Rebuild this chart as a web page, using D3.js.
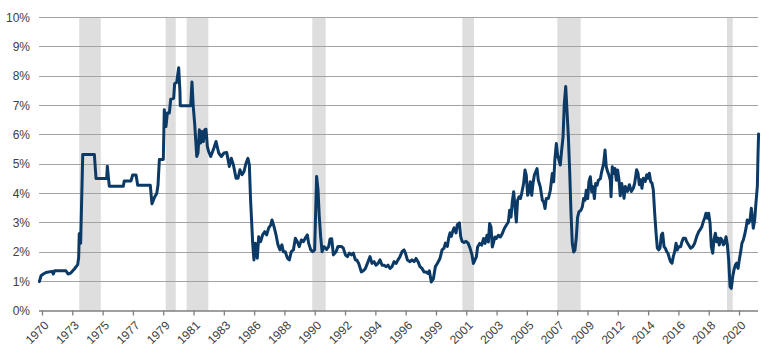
<!DOCTYPE html>
<html>
<head>
<meta charset="utf-8">
<script src="https://cdn.jsdelivr.net/npm/d3@7"></script>
<style>
  html, body { margin: 0; padding: 0; background: #ffffff; }
  svg { display: block; }
</style>
</head>
<body>
<svg id="chart" width="770" height="359"></svg>
<script>
// ---- DATA ----
// Dates as decimal years, values in percent
const dates = [
  1970.73,1970.85,1971.01,1971.20,1971.63,1971.73,1971.82,1972.63,1972.78,1972.97,
  1973.23,1973.47,1973.54,1973.58,1973.68,1973.83,1974.66,1974.78,1975.54,1975.59,
  1975.66,1975.73,1976.73,1976.80,1977.28,1977.40,1977.64,1977.76,1978.66,1978.78,
  1978.97,1979.12,1979.21,1979.31,1979.59,1979.66,1979.78,1979.88,1980.02,1980.12,
  1980.33,1980.40,1980.55,1980.69,1980.78,1980.80,
  1981.55,1981.64,1981.73,1981.83,1981.98,1982.07,1982.17,1982.26,1982.36,1982.45,
  1982.55,1982.64,1982.74,1982.83,1982.98,1983.21,1983.36,1983.55,1983.74,1983.93,
  1984.12,1984.31,1984.45,1984.60,1984.79,1984.93,1985.07,1985.22,1985.36,1985.50,
  1985.64,1985.74,1985.83,1985.98,1986.07,1986.17,1986.26,1986.31,1986.41,1986.55,
  1986.69,1986.84,1986.98,1987.12,1987.27,1987.36,1987.50,1987.65,1987.79,1987.93,
  1988.07,1988.17,1988.31,1988.46,1988.60,1988.74,1988.89,1989.03,1989.17,1989.31,
  1989.46,1989.60,1989.74,1989.89,1989.98,1990.13,1990.27,1990.41,1990.55,1990.65,
  1990.74,1990.84,1990.94,1991.08,1991.27,1991.41,
  1991.51,1991.63,1991.75,1991.94,1992.08,1992.32,1992.46,1992.61,1992.75,1992.89,
  1993.04,1993.18,1993.32,1993.42,1993.56,1993.75,1993.89,1994.04,1994.23,1994.37,
  1994.51,1994.66,1994.80,1994.94,1995.08,1995.23,1995.37,1995.51,1995.66,1995.80,
  1995.94,1996.09,1996.23,1996.37,1996.51,1996.66,1996.80,1996.90,1997.04,1997.23,
  1997.37,1997.52,1997.66,1997.80,1997.94,1998.09,1998.23,1998.37,1998.52,1998.61,
  1998.75,1998.90,1999.04,1999.18,1999.37,1999.52,1999.66,1999.76,1999.90,1999.99,
  2000.09,2000.18,2000.28,2000.38,2000.52,2000.61,2000.76,2000.85,2000.95,2001.09,
  2001.23,2001.38,2001.52,2001.66,2001.76,
  2001.97,2002.06,2002.21,2002.35,2002.49,2002.59,2002.73,2002.83,2002.92,2003.02,
  2003.11,2003.21,2003.30,2003.40,2003.54,2003.69,2003.83,2003.97,2004.11,2004.26,
  2004.35,2004.45,2004.54,2004.64,2004.73,2004.83,2004.92,2005.02,2005.12,2005.21,
  2005.35,2005.45,2005.54,2005.64,2005.73,2005.83,2005.93,2006.02,2006.12,2006.31,
  2006.40,2006.54,2006.69,2006.78,2006.88,2006.97,2007.12,2007.26,2007.40,2007.50,
  2007.59,2007.69,2007.78,2007.88,2007.97,2008.07,2008.17,2008.26,2008.36,2008.45,
  2008.55,2008.64,2008.74,2008.83,2008.93,2009.02,2009.12,2009.21,2009.31,2009.45,
  2009.55,2009.64,2009.74,2009.83,2009.93,2010.02,2010.12,2010.22,2010.31,2010.41,
  2010.50,2010.60,2010.69,2010.84,2010.93,2011.07,2011.17,2011.26,2011.36,2011.45,
  2011.55,2011.60,2011.69,2011.79,2011.88,2011.98,2012.07,2012.17,2012.26,2012.36,
  2012.46,2012.53,
  2012.62,2012.77,2012.91,2013.05,2013.19,2013.29,2013.43,2013.53,2013.62,2013.72,
  2013.81,2013.91,2014.05,2014.15,2014.24,2014.34,2014.43,2014.53,2014.62,2014.72,
  2014.82,2014.91,2015.01,2015.10,2015.20,2015.29,2015.39,2015.48,2015.58,2015.67,
  2015.77,2015.86,2015.96,2016.05,2016.15,2016.25,2016.34,2016.44,2016.58,2016.67,
  2016.77,2016.91,2017.01,2017.15,2017.29,2017.44,2017.58,2017.72,2017.87,2017.96,
  2018.10,2018.20,2018.29,2018.39,2018.48,2018.58,2018.68,2018.77,2018.87,2018.96,
  2019.06,2019.15,2019.25,2019.34,2019.44,2019.53,2019.63,2019.72,2019.82,2019.92,
  2020.01,2020.11,2020.20,2020.30,2020.39,2020.49,2020.58,2020.68,2020.77,2020.87,
  2020.96,2021.06,2021.15,2021.25,2021.34,2021.44,2021.54,2021.63,2021.68,2021.77,
  2021.87,2021.96,2022.06,2022.11,2022.15
];
const values = [
  1.00,1.20,1.26,1.31,1.35,1.26,1.37,1.37,1.26,1.29,
  1.43,1.58,1.83,2.63,2.31,5.33,5.33,4.51,4.51,4.93,
  4.57,4.25,4.25,4.43,4.43,4.63,4.63,4.28,4.28,3.65,
  3.88,4.00,4.28,5.16,5.16,6.85,6.28,6.74,6.74,7.21,
  7.24,7.74,7.79,8.28,7.48,6.99,
  6.99,7.80,6.97,6.40,5.26,5.38,6.17,5.72,6.11,5.77,
  6.17,6.19,5.60,5.43,5.26,5.55,5.77,5.38,5.26,5.38,
  5.40,4.92,5.20,4.98,4.52,4.52,4.81,4.64,4.75,5.03,
  5.20,4.98,3.78,2.31,1.74,2.31,2.19,1.80,2.53,2.36,
  2.59,2.70,2.59,2.82,2.93,3.10,2.88,2.59,2.25,2.08,
  2.25,2.02,2.02,1.80,1.74,2.02,2.08,2.48,2.36,2.19,
  2.42,2.36,2.48,2.59,2.31,2.08,2.02,2.08,4.58,4.13,
  3.22,2.53,2.02,2.19,2.10,2.19,
  2.45,2.46,1.91,2.02,2.20,2.20,2.14,1.91,1.85,1.97,
  1.91,1.97,1.74,1.74,1.62,1.33,1.37,1.45,1.68,1.85,
  1.62,1.68,1.56,1.62,1.74,1.56,1.56,1.51,1.56,1.45,
  1.51,1.68,1.62,1.74,1.85,2.02,2.08,1.97,1.74,1.68,
  1.74,1.68,1.79,1.68,1.51,1.45,1.33,1.33,1.28,1.37,
  0.99,1.10,1.51,1.62,1.79,2.08,2.14,2.31,2.20,2.48,
  2.66,2.54,2.71,2.83,2.66,2.94,3.00,2.54,2.37,2.33,
  2.37,2.31,2.14,1.91,1.62,
  1.84,2.18,2.30,2.24,2.47,2.30,2.58,2.35,2.98,2.86,
  2.18,2.35,2.52,2.47,2.58,2.52,2.64,2.81,2.92,3.03,
  3.43,3.20,3.72,4.06,3.55,3.03,3.77,3.89,3.83,4.00,
  4.34,4.80,4.63,3.94,4.06,4.40,3.94,4.34,4.63,4.85,
  4.45,4.23,3.77,3.72,3.49,3.83,3.83,4.11,4.68,4.40,
  5.19,5.70,5.31,5.14,4.97,5.48,5.93,7.07,7.64,6.84,
  5.93,4.80,3.32,2.30,2.01,2.07,2.52,3.20,3.38,3.43,
  3.55,3.83,3.77,4.11,3.83,4.40,4.57,4.06,4.23,3.83,
  4.34,4.28,4.45,4.51,4.74,5.02,5.48,4.91,4.74,4.63,
  4.45,3.89,4.91,4.68,4.85,4.45,4.80,4.45,3.92,4.34,
  4.10,3.84,
  4.24,4.07,4.30,4.07,4.18,4.35,4.81,4.69,4.30,4.47,
  4.18,4.52,4.41,4.64,4.52,4.69,4.41,4.35,4.13,3.33,
  2.65,2.14,2.08,2.14,2.59,2.65,2.19,2.14,2.02,1.97,
  1.80,1.68,1.63,1.85,2.02,2.31,2.08,2.19,2.19,2.36,
  2.48,2.48,2.36,2.25,2.14,2.19,2.31,2.53,2.70,2.76,
  2.88,3.05,3.16,3.33,3.16,3.33,2.99,2.19,1.97,2.42,
  2.65,2.36,2.48,2.25,2.48,2.42,2.25,2.31,2.53,2.25,
  1.74,0.83,0.77,1.17,1.40,1.57,1.63,1.45,1.74,2.02,
  2.31,2.42,2.59,2.82,3.10,2.99,3.10,3.50,3.27,2.82,
  3.10,3.67,4.24,5.38,6.03
];
// Shaded periods (decimal years)
const shadeStart = [1973.58, 1979.76, 1981.26, 1990.24, 2000.97, 2007.76, 2019.89];
const shadeEnd   = [1975.12, 1980.48, 1982.81, 1991.20, 2001.80, 2009.43, 2020.30];
// Axis labels
const xTickLabels = ["1970","1973","1975","1977","1979","1981","1983","1986","1988","1990","1992","1994",
                     "1996","1999","2001","2003","2005","2007","2009","2012","2014","2016","2018","2020"];
const yTicks = [0,1,2,3,4,5,6,7,8,9,10];

// ---- CHART ----
const svg = d3.select("#chart");
const firstTick = 1970.917, tickStep = 26/12;
const xTickVals = xTickLabels.map((_, i) => firstTick + i * tickStep);

const x = d3.scaleLinear().domain([1970.75, 2022.15]).range([39.66, 758.6]);
const y = d3.scaleLinear().domain([0, 10]).range([311, 17.3]);

const crisp = v => Math.round(v) + 0.5;

// recession shading
svg.append("g").selectAll("rect")
  .data(shadeStart.map((s, i) => [s, shadeEnd[i]]))
  .join("rect")
  .attr("x", d => x(d[0]))
  .attr("width", d => x(d[1]) - x(d[0]))
  .attr("y", y(10))
  .attr("height", y(0) - y(10))
  .attr("fill", "#dfdedf");

// gridlines
svg.append("g").selectAll("line")
  .data(yTicks.filter(d => d > 0))
  .join("line")
  .attr("x1", 39).attr("x2", 758)
  .attr("y1", d => crisp(y(d) - 0.5)).attr("y2", d => crisp(y(d) - 0.5))
  .attr("stroke", "#a3a3a3").attr("stroke-width", 1);

// y labels
svg.append("g").selectAll("text")
  .data(yTicks)
  .join("text")
  .attr("x", 30)
  .attr("y", d => y(d))
  .attr("dy", "0.35em")
  .attr("text-anchor", "end")
  .attr("font-family", "'Liberation Sans', Arial, sans-serif")
  .attr("font-size", 12)
  .attr("fill", "#404040")
  .text(d => d + "%");

// x axis
const xAxis = d3.axisBottom(x)
  .tickValues(xTickVals)
  .tickFormat((d, i) => xTickLabels[i])
  .tickSize(5)
  .tickSizeOuter(0);

const gx = svg.append("g")
  .attr("transform", `translate(0,${Math.round(y(0)) - 0.5})`)
  .call(xAxis);
gx.select(".domain").attr("stroke", "#7f7f7f").attr("stroke-width", 1.3)
  .attr("d", `M39,0.5H758`);
gx.selectAll(".tick line").attr("stroke", "#7f7f7f").attr("stroke-width", 1.3);
gx.selectAll(".tick text")
  .attr("x", 0).attr("y", 0).attr("dy", "0.35em")
  .attr("transform", "translate(4,12.5) rotate(-45)")
  .attr("text-anchor", "end")
  .attr("font-family", "'Liberation Sans', Arial, sans-serif")
  .attr("font-size", 12)
  .attr("fill", "#404040");

// line
const pts = dates.map((d, i) => [d, values[i]]);
svg.append("path")
  .datum(pts)
  .attr("fill", "none")
  .attr("stroke", "#0b3a66")
  .attr("stroke-width", 3)
  .attr("stroke-linejoin", "round")
  .attr("stroke-linecap", "round")
  .attr("d", d3.line().x(d => x(d[0])).y(d => y(d[1])));
</script>
</body>
</html>
